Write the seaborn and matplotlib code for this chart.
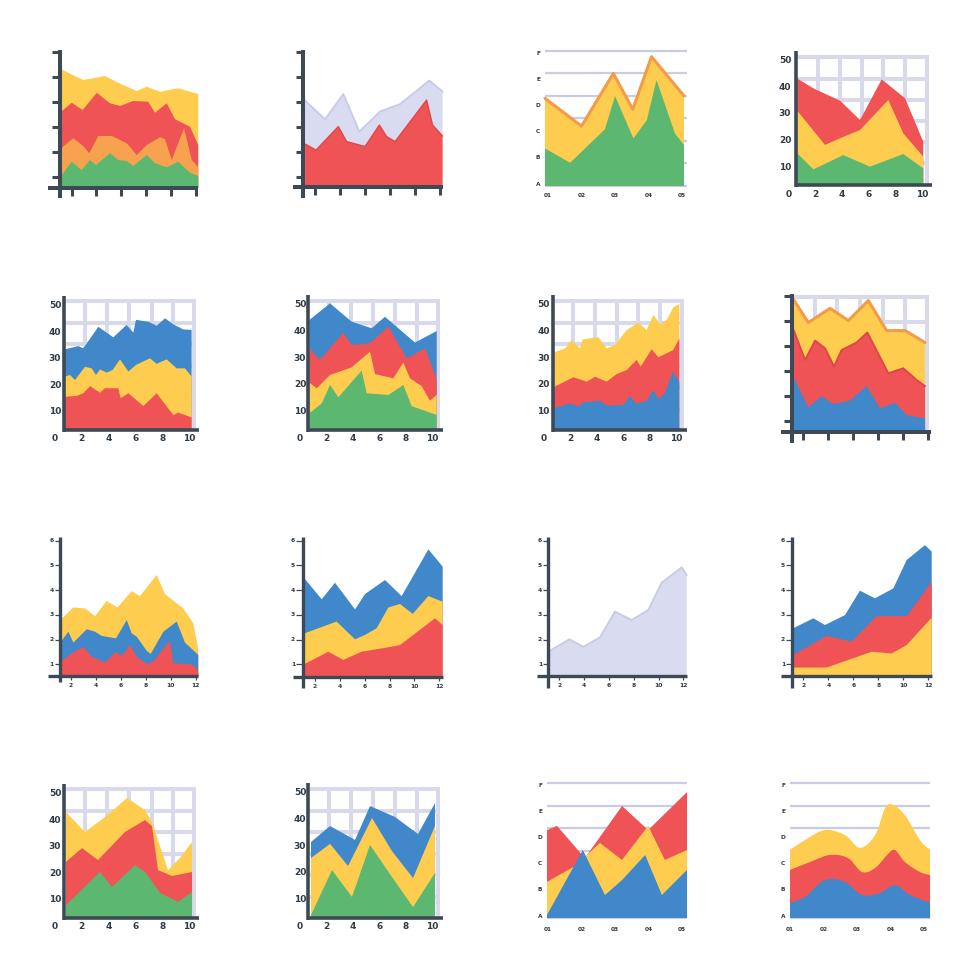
import numpy as np
import matplotlib
matplotlib.use("Agg")
import matplotlib.pyplot as plt
import seaborn as sns

sns.set_theme(style="white")
plt.rcParams['font.family'] = ['DejaVu Sans']

# ---------------- colours ----------------
YEL = "#FECD4F"; RED = "#EF5355"; ORA = "#F7A24E"; GRN = "#5CB871"
BLU = "#4088CA"; LAV = "#D9DBF0"; GRID = "#D8DAEC"; AXC = "#3D4A55"
OUT = "#F29C4A"; REDE = "#DE4747"; LAVE = "#C9CCE6"; TXT = "#2F3B45"

# ---------------- data ----------------
# P1 (unlabelled, tick units)
p1_x_yel = [0.04, 0.93, 1.8, 2.33, 3.07, 3.47, 4.0, 4.73, 5.53]
p1_y_yel = [4.75, 4.32, 4.48, 4.21, 3.88, 4.05, 3.85, 3.99, 3.76]
p1_x_red = [0.04, 0.47, 0.91, 1.47, 2.0, 2.4, 2.93, 3.53, 3.8, 4.27, 4.6, 5.2, 5.53]
p1_y_red = [3.05, 3.41, 3.12, 3.81, 3.39, 3.28, 3.48, 3.45, 3.01, 3.39, 2.75, 2.45, 1.72]
p1_x_ora = [0.04, 0.53, 0.93, 1.17, 1.53, 2.07, 2.67, 3.07, 3.47, 4.0, 4.2, 4.47, 4.96, 5.27, 5.53]
p1_y_ora = [1.59, 1.99, 1.68, 1.39, 2.08, 2.08, 1.79, 1.32, 1.72, 2.03, 1.95, 1.12, 2.39, 1.12, 0.83]
p1_x_grn = [0.04, 0.47, 0.87, 1.2, 1.44, 2.0, 2.33, 2.67, 2.93, 3.47, 3.8, 4.27, 4.73, 5.2, 5.53]
p1_y_grn = [0.48, 1.05, 0.72, 1.12, 0.92, 1.39, 1.12, 1.08, 0.88, 1.32, 0.99, 0.83, 1.05, 0.61, 0.48]

# P2
p2_x_lav = [0.07, 0.87, 1.6, 2.24, 3.07, 3.87, 5.04, 5.57]
p2_y_lav = [3.47, 2.72, 3.73, 2.23, 3.03, 3.33, 4.27, 3.83]
p2_x_red = [0.07, 0.51, 1.4, 1.73, 2.47, 3.04, 3.33, 3.67, 4.93, 5.17, 5.57]
p2_y_red = [1.73, 1.49, 2.43, 1.83, 1.63, 2.49, 2.03, 1.83, 3.49, 2.49, 2.05]

# P3 (letters A-F, 01-05)
letters = ["A", "B", "C", "D", "E", "F"]
periods = ["01", "02", "03", "04", "05"]
p3_x_yel = [0.91, 2.0, 2.95, 3.53, 4.09, 5.06]
p3_y_yel = [3.27, 2.21, 4.22, 2.85, 4.86, 3.36]
p3_x_grn = [0.91, 1.66, 2.70, 3.0, 3.55, 3.95, 4.24, 4.79, 5.06]
p3_y_grn = [1.36, 0.81, 2.09, 3.36, 1.74, 2.44, 3.97, 1.93, 1.49]

# P4 (0-50 / 0-10)
p4_x_red = [0.62, 1.99, 3.86, 5.35, 6.97, 8.71, 10.07]
p4_y_red = [43.4, 39.3, 35.0, 27.75, 43.0, 35.9, 19.6]
p4_x_yel = [0.62, 2.74, 3.86, 5.35, 7.46, 8.58, 10.07]
p4_y_yel = [31.5, 18.4, 20.9, 24.0, 35.25, 22.75, 14.0]
p4_x_grn = [0.62, 1.87, 4.1, 6.09, 8.58, 10.07]
p4_y_grn = [15.5, 9.25, 14.6, 10.25, 15.0, 9.6]

# P5
p5_x_blu = [0.74, 1.74, 2.11, 3.23, 4.34, 5.33, 5.83, 6.03, 6.95, 7.57, 8.19, 8.81, 9.55, 10.17]
p5_y_blu = [33.6, 34.8, 34.0, 42.1, 38.1, 42.8, 39.9, 44.7, 44.0, 42.5, 45.3, 43.0, 41.1, 40.9]
p5_x_yel = [0.74, 1.12, 1.49, 2.23, 2.73, 3.05, 3.35, 3.85, 4.29, 4.84, 5.46, 6.03, 7.07, 7.57, 8.31, 9.06, 9.68, 10.17]
p5_y_yel = [23.3, 23.9, 22.0, 27.0, 26.4, 23.9, 26.0, 24.8, 25.8, 29.8, 25.2, 27.7, 30.2, 28.1, 29.8, 26.4, 26.4, 23.3]
p5_x_red = [0.74, 1.61, 2.11, 2.61, 3.35, 3.72, 4.71, 4.89, 5.46, 6.58, 7.57, 8.81, 9.18, 10.17]
p5_y_red = [15.7, 16.0, 17.0, 19.7, 17.2, 18.9, 18.9, 15.1, 17.0, 12.2, 17.0, 8.8, 9.7, 7.9]

# P6
p6_x_blu = [0.71, 2.27, 3.9, 5.42, 6.42, 8.69, 10.33]
p6_y_blu = [44.4, 50.6, 43.75, 41.25, 45.6, 35.9, 40.25]
p6_x_red = [0.71, 1.51, 3.27, 3.9, 5.04, 5.42, 6.68, 8.06, 9.45, 10.08, 10.33]
p6_y_red = [33.75, 29.4, 39.6, 35.0, 35.4, 36.25, 41.9, 30.0, 33.75, 25.6, 21.9]
p6_x_yel = [0.71, 1.26, 2.27, 3.9, 5.29, 5.67, 7.05, 7.81, 8.31, 9.19, 9.82, 10.33]
p6_y_yel = [20.9, 18.75, 23.75, 26.6, 32.5, 24.1, 22.5, 28.4, 22.5, 19.6, 14.1, 16.25]
p6_x_grn = [0.71, 1.64, 2.27, 2.9, 4.66, 5.04, 6.68, 7.81, 8.44, 10.33]
p6_y_grn = [9.4, 13.1, 20.0, 15.4, 25.4, 16.9, 16.25, 20.0, 12.1, 8.75]

# P7
p7_x_yel = [0.75, 1.63, 2.13, 2.75, 2.95, 4.13, 4.75, 5.38, 6.25, 7.13, 7.75, 8.25, 8.75, 9.25, 9.75, 10.2]
p7_y_yel = [32.1, 33.75, 36.9, 33.75, 37.1, 37.9, 33.75, 35.0, 40.6, 43.4, 40.6, 46.25, 42.9, 44.4, 49.1, 50.4]
p7_x_red = [0.75, 2.25, 3.25, 3.88, 4.75, 5.5, 6.25, 7.0, 7.3, 8.13, 8.63, 9.75, 10.2]
p7_y_red = [19.1, 22.9, 21.25, 23.1, 21.25, 24.1, 25.6, 29.4, 26.9, 33.4, 30.4, 33.1, 37.5]
p7_x_blu = [0.75, 2.0, 2.63, 3.0, 4.25, 4.75, 6.0, 6.5, 7.0, 7.75, 8.25, 8.63, 9.13, 9.7, 10.2]
p7_y_blu = [11.25, 13.1, 11.9, 13.5, 14.1, 12.25, 12.5, 15.9, 12.9, 14.1, 18.1, 14.75, 16.9, 25.0, 21.25]

# P8
p8_x_yel = [0.04, 0.64, 1.51, 2.24, 3.04, 3.77, 4.51, 5.31]
p8_y_yel = [5.32, 4.39, 4.96, 4.47, 5.27, 4.07, 4.07, 3.59]
p8_x_red = [0.04, 0.51, 0.91, 1.31, 1.67, 1.97, 2.57, 3.0, 3.84, 4.44, 4.97, 5.31]
p8_y_red = [4.12, 2.89, 3.67, 3.36, 2.63, 3.29, 3.59, 3.99, 2.36, 2.56, 2.09, 1.85]
p8_x_blu = [0.04, 0.64, 1.17, 1.64, 2.31, 2.97, 3.51, 4.11, 4.57, 5.31]
p8_y_blu = [2.23, 1.0, 1.45, 1.13, 1.27, 1.85, 0.96, 1.19, 0.69, 0.56]

# P9 (1-6 / 2-12)
p9_x_yel = [1.2, 2.19, 3.12, 3.93, 4.86, 5.72, 6.87, 7.53, 8.87, 9.54, 10.21, 11.01, 11.81, 12.21]
p9_y_yel = [2.82, 3.3, 3.26, 2.95, 3.56, 3.3, 3.96, 3.76, 4.61, 3.84, 3.57, 3.26, 2.66, 1.61]
p9_x_blu = [1.2, 1.79, 2.19, 3.26, 3.93, 4.46, 5.61, 6.47, 6.87, 7.27, 8.07, 8.39, 9.41, 10.48, 11.14, 12.21]
p9_y_blu = [1.92, 2.32, 1.88, 2.42, 2.32, 2.15, 2.05, 2.79, 2.25, 2.12, 1.55, 1.42, 2.32, 2.73, 1.88, 1.38]
p9_x_red = [1.2, 2.05, 2.99, 3.66, 4.73, 5.61, 6.07, 6.73, 7.27, 8.07, 8.6, 9.94, 10.21, 11.55, 11.95, 12.21]
p9_y_red = [1.11, 1.44, 1.71, 1.31, 1.07, 1.51, 1.34, 1.78, 1.31, 1.01, 1.11, 1.96, 1.04, 1.01, 0.91, 0.7]

# P10
p10_x_blu = [1.14, 2.54, 3.61, 5.22, 6.02, 7.63, 8.97, 11.12, 12.27]
p10_y_blu = [4.48, 3.63, 4.3, 3.22, 3.84, 4.41, 3.76, 5.65, 4.95]
p10_x_yel = [1.14, 3.74, 5.22, 6.02, 6.96, 7.9, 8.84, 9.86, 11.12, 12.27]
p10_y_yel = [2.25, 2.73, 2.01, 2.19, 2.46, 3.3, 3.44, 3.04, 3.76, 3.53]
p10_x_red = [1.14, 3.07, 4.28, 5.75, 7.9, 8.84, 9.91, 11.65, 12.27]
p10_y_red = [1.01, 1.51, 1.18, 1.51, 1.69, 1.78, 2.19, 2.86, 2.59]

# P11
p11_x_lav = [1.25, 2.81, 3.94, 5.28, 6.49, 7.83, 9.18, 10.25, 11.87, 12.27]
p11_y_lav = [1.55, 2.01, 1.71, 2.09, 3.13, 2.79, 3.2, 4.3, 4.92, 4.61]

# P12
p12_x_blu = [1.2, 2.8, 3.73, 5.33, 6.53, 7.73, 9.2, 10.27, 11.73, 12.27]
p12_y_blu = [2.46, 2.86, 2.59, 2.99, 3.98, 3.67, 4.07, 5.22, 5.82, 5.56]
p12_x_red = [1.2, 3.87, 5.87, 7.87, 10.27, 12.27]
p12_y_red = [1.38, 2.15, 1.92, 2.95, 2.95, 4.34]
p12_x_yel = [1.2, 3.87, 7.47, 9.07, 10.27, 12.27]
p12_y_yel = [0.87, 0.87, 1.51, 1.44, 1.78, 2.89]

# P13
p13_x_yel = [0.82, 2.23, 3.72, 5.36, 6.7, 7.22, 8.41, 9.31, 10.2]
p13_y_yel = [43.1, 35.6, 41.2, 48.4, 43.9, 39.4, 21.2, 25.8, 31.8]
p13_x_red = [0.82, 2.01, 3.2, 5.21, 6.7, 7.22, 7.67, 8.71, 10.2]
p13_y_red = [24.3, 29.5, 25.0, 35.6, 40.1, 37.8, 21.2, 19.0, 20.5]
p13_x_grn = [0.82, 3.35, 4.24, 5.96, 6.7, 7.82, 9.16, 10.2]
p13_y_grn = [8.0, 20.5, 14.8, 23.1, 20.5, 12.6, 9.2, 12.9]

# P14
p14_x_blu = [0.83, 2.27, 4.16, 5.29, 7.18, 8.92, 10.2]
p14_y_blu = [31.6, 37.6, 32.4, 45.1, 41.0, 34.6, 46.2]
p14_x_yel = [0.83, 2.27, 3.63, 5.44, 6.95, 8.54, 10.2]
p14_y_yel = [25.6, 30.9, 22.6, 40.6, 28.2, 18.1, 37.6]
p14_x_grn = [0.83, 2.42, 3.93, 5.29, 6.95, 8.54, 10.2]
p14_y_grn = [4.2, 21.1, 11.0, 30.5, 18.5, 7.2, 20.0]

# P15
p15_x_red = [0.97, 1.27, 2.1, 3.21, 3.99, 5.15]
p15_y_red = [3.28, 3.44, 2.21, 4.2, 3.28, 4.73]
p15_x_yel = [0.97, 1.81, 2.55, 3.21, 3.99, 4.49, 5.15]
p15_y_yel = [1.3, 1.91, 2.79, 2.14, 3.44, 2.14, 2.52]
p15_x_blu = [0.97, 2.04, 2.7, 3.21, 3.9, 4.4, 5.15]
p15_y_blu = [0.04, 2.52, 0.8, 1.37, 2.33, 0.8, 1.76]

# P16 (smooth)
p16_x_yel = [1.0, 1.45, 2.04, 2.64, 3.09, 3.54, 3.84, 4.07, 4.43, 4.88, 5.18]
p16_y_yel = [2.52, 2.9, 3.28, 3.09, 2.6, 3.09, 4.12, 4.24, 3.85, 2.9, 2.52]
p16_x_red = [1.0, 1.6, 2.19, 2.73, 3.15, 3.54, 3.9, 4.13, 4.43, 4.88, 5.18]
p16_y_red = [1.76, 2.06, 2.33, 2.21, 1.68, 1.83, 2.33, 2.52, 2.06, 1.68, 1.56]
p16_x_blu = [1.0, 1.45, 2.04, 2.64, 3.15, 3.69, 4.13, 4.58, 5.18]
p16_y_blu = [0.5, 0.73, 1.37, 1.3, 0.8, 0.88, 1.18, 0.8, 0.5]

tens = [10, 20, 30, 40, 50]
evens10 = [2, 4, 6, 8, 10]
ones = [1, 2, 3, 4, 5, 6]
evens12 = [2, 4, 6, 8, 10, 12]

# ---------------- helpers ----------------
W = H = 980
fig = plt.figure(figsize=(9.8, 9.8), dpi=100)
fig.patch.set_facecolor("white")


def pan(cell, a, sx, b, sy):
    L, T, R, B = cell
    ax = fig.add_axes([L / W, 1 - B / H, (R - L) / W, (B - T) / H])
    ax.set_xlim((L - a) / sx, (R - a) / sx)
    ax.set_ylim((b - B) / sy, (b - T) / sy)
    ax.set_axis_off()
    fx = lambda p: (p - a) / sx
    fy = lambda p: (b - p) / sy
    return ax, fx, fy


def seg(ax, fx, fy, x0, y0, x1, y1, color=AXC, lw=2.6, z=6, cap="butt"):
    ax.plot([fx(x0), fx(x1)], [fy(y0), fy(y1)], color=color, lw=lw,
            solid_capstyle=cap, clip_on=False, zorder=z)


def area(ax, x, y, base, color, z=2):
    x = list(x); y = list(y)
    ax.fill(x + [x[-1], x[0]], y + [base, base], color=color, lw=0, zorder=z)


def edge(ax, x, y, color, lw, z=3):
    sns.lineplot(x=x, y=y, ax=ax, color=color, lw=lw, sort=False,
                 estimator=None, legend=False, zorder=z)


def smooth(x, y, n=16):
    P = np.column_stack([x, y]).astype(float)
    P = np.vstack([P[0], P, P[-1]])
    out = []
    t = np.linspace(0, 1, n, endpoint=False)[:, None]
    for i in range(1, len(P) - 2):
        p0, p1, p2, p3 = P[i - 1], P[i], P[i + 1], P[i + 2]
        out.append(0.5 * (2 * p1 + (-p0 + p2) * t + (2 * p0 - 5 * p1 + 4 * p2 - p3) * t ** 2
                          + (-p0 + 3 * p1 - 3 * p2 + p3) * t ** 3))
    out.append(P[-2][None])
    r = np.vstack(out)
    return list(r[:, 0]), list(r[:, 1])


def txt(ax, x, y, s, size=6.5):
    ax.text(x, y, s, ha="center", va="center", fontsize=size, fontweight="bold",
            color=TXT, clip_on=False, zorder=8)


def grid(ax, fx, fy, xs, ys, x0, x1, y0, y1, lw=2.9):
    for p in xs:
        seg(ax, fx, fy, p, y0, p, y1, color=GRID, lw=lw, z=1)
    for p in ys:
        seg(ax, fx, fy, x0, p, x1, p, color=GRID, lw=lw, z=1)


# ---------------- P1 ----------------
ax, fx, fy = pan((20, 20, 240, 240), 60, 25, 188, 25)
area(ax, p1_x_yel, p1_y_yel, 0, YEL)
area(ax, p1_x_red, p1_y_red, 0, RED)
area(ax, p1_x_ora, p1_y_ora, 0, ORA)
area(ax, p1_x_grn, p1_y_grn, 0, GRN)
seg(ax, fx, fy, 60, 50, 60, 198, lw=2.9)
seg(ax, fx, fy, 48, 188, 198, 188, lw=2.9)
for p in [52, 77, 102, 127, 152, 177]:
    seg(ax, fx, fy, 52, p, 60, p, lw=2.2)
for p in [72, 96, 121, 146, 171, 196]:
    seg(ax, fx, fy, p, 188, p, 196, lw=2.2)

# ---------------- P2 ----------------
ax, fx, fy = pan((260, 20, 480, 240), 303.33, 25, 187.33, 25)
area(ax, p2_x_lav, p2_y_lav, 0, LAV)
edge(ax, p2_x_lav, p2_y_lav, LAVE, 1.4)
area(ax, p2_x_red, p2_y_red, 0, RED, z=4)
edge(ax, p2_x_red, p2_y_red, REDE, 1.0, z=5)
seg(ax, fx, fy, 303, 50, 303, 198, lw=2.9)
seg(ax, fx, fy, 293, 187, 443, 187, lw=2.9)
for p in [52, 77, 102, 127, 152, 177]:
    seg(ax, fx, fy, 296, p, 303, p, lw=2.2)
for p in [315, 340, 365, 390, 415, 440]:
    seg(ax, fx, fy, p, 187, p, 195, lw=2.2)

# ---------------- P3 ----------------
ax, fx, fy = pan((500, 20, 720, 240), 514.5, 33.5, 184, 26.2)
for p in [51, 73, 96, 118, 141, 163, 186]:
    seg(ax, fx, fy, 545, p, 687, p, color="#C9CCE5", lw=1.6, z=1)
area(ax, p3_x_yel, p3_y_yel, fy(186), YEL)
edge(ax, p3_x_yel, p3_y_yel, OUT, 2.2)
area(ax, p3_x_grn, p3_y_grn, fy(186), GRN, z=4)
for i, s in enumerate(letters):
    txt(ax, fx(538), i, s, 4.2)
for i, s in enumerate(periods):
    txt(ax, i + 1, fy(195), s, 4.2)

# ---------------- P4 ----------------
ax, fx, fy = pan((740, 20, 960, 240), 788.33, 13.4, 194, 2.667)
grid(ax, fx, fy, [818.3, 840, 861.7, 883.3, 905, 926.7],
     [56.7, 79.3, 100, 120.7, 141.7, 163.3], 796, 928, 55.3, 185)
area(ax, p4_x_red, p4_y_red, fy(185), RED)
area(ax, p4_x_yel, p4_y_yel, fy(185), YEL)
area(ax, p4_x_grn, p4_y_grn, fy(185), GRN)
seg(ax, fx, fy, 796, 51, 796, 187, lw=2.6)
seg(ax, fx, fy, 796, 185, 932, 185, lw=2.6)
for v in tens:
    txt(ax, fx(785), v, str(v))
txt(ax, 0, 0, "0")
for v in evens10:
    txt(ax, v, 0, str(v))

# ---------------- P5 ----------------
ax, fx, fy = pan((20, 265, 240, 485), 55, 13.433, 438.33, 2.65)
grid(ax, fx, fy, [85, 107.3, 129.3, 151.7, 173.3, 194],
     [300.7, 322.7, 344, 366, 387.3, 409.3], 64, 195.4, 299.3, 430)
area(ax, p5_x_blu, p5_y_blu, fy(430), BLU)
area(ax, p5_x_yel, p5_y_yel, fy(430), YEL)
area(ax, p5_x_red, p5_y_red, fy(430), RED)
seg(ax, fx, fy, 64, 296, 64, 432, lw=2.6)
seg(ax, fx, fy, 64, 430, 199, 430, lw=2.6)
for v in tens:
    txt(ax, 0, v, str(v))
txt(ax, 0, 0, "0")
for v in evens10:
    txt(ax, v, 0, str(v))

# ---------------- P6 ----------------
ax, fx, fy = pan((260, 265, 480, 485), 300, 13.233, 438.33, 2.667)
grid(ax, fx, fy, [329.3, 350.7, 372.7, 395, 416.7, 438.3],
     [300.7, 322.7, 344, 366, 387.3, 409.3], 308, 439.7, 299.3, 430)
area(ax, p6_x_blu, p6_y_blu, fy(430), BLU)
area(ax, p6_x_red, p6_y_red, fy(430), RED)
area(ax, p6_x_yel, p6_y_yel, fy(430), YEL)
area(ax, p6_x_grn, p6_y_grn, fy(430), GRN)
seg(ax, fx, fy, 308, 295, 308, 432, lw=2.6)
seg(ax, fx, fy, 308, 430, 443, 430, lw=2.6)
for v in tens:
    txt(ax, 0, v, str(v))
txt(ax, 0, 0, "0")
for v in evens10:
    txt(ax, v, 0, str(v))

# ---------------- P7 ----------------
ax, fx, fy = pan((500, 265, 720, 485), 543.33, 13.333, 438.33, 2.667)
grid(ax, fx, fy, [573.3, 595, 616.7, 638.3, 660, 681.7],
     [300.7, 322.7, 344, 366, 387.3, 409.3], 553, 683.1, 299.3, 430)
area(ax, p7_x_yel, p7_y_yel, fy(430), YEL)
area(ax, p7_x_red, p7_y_red, fy(430), RED)
area(ax, p7_x_blu, p7_y_blu, fy(430), BLU)
seg(ax, fx, fy, 553, 295, 553, 432, lw=2.6)
seg(ax, fx, fy, 553, 430, 687, 430, lw=2.6)
for v in tens:
    txt(ax, 0, v, str(v))
txt(ax, 0, 0, "0")
for v in evens10:
    txt(ax, v, 0, str(v))

# ---------------- P8 ----------------
ax, fx, fy = pan((740, 265, 960, 485), 792.33, 25, 432.33, 25)
grid(ax, fx, fy, [815, 837.3, 860, 882.7, 905, 926.7],
     [296.7, 321.7, 346.7, 371.7, 396.7, 421.7], 792, 928, 295.3, 432)
area(ax, p8_x_yel, p8_y_yel, 0, YEL)
edge(ax, p8_x_yel, p8_y_yel, OUT, 2.2)
area(ax, p8_x_red, p8_y_red, 0, RED, z=4)
edge(ax, p8_x_red, p8_y_red, REDE, 1.4, z=5)
area(ax, p8_x_blu, p8_y_blu, 0, BLU, z=6)
seg(ax, fx, fy, 792, 294, 792, 443, lw=2.9, z=7)
seg(ax, fx, fy, 781, 432, 931, 432, lw=2.9, z=7)
for p in [296, 321, 346, 371, 396, 421]:
    seg(ax, fx, fy, 784, p, 792, p, lw=2.2, z=7)
for p in [803, 828, 853, 878, 903, 928]:
    seg(ax, fx, fy, p, 432, p, 440, lw=2.2, z=7)


# ---------------- P9-P12 ----------------
def small_axes(ax, fx, fy, axx, y0, y1, axy, x0, x1, labx):
    seg(ax, fx, fy, axx, y0, axx, y1, lw=2.4, z=7)
    seg(ax, fx, fy, x0, axy, x1, axy, lw=2.4, z=7)
    for v in ones:
        txt(ax, fx(labx), v, str(v), 4.3)
        ax.plot([fx(labx + 3), fx(axx)], [v, v], color=AXC, lw=0.9, zorder=7,
                clip_on=False, solid_capstyle="butt")
    for v in evens12:
        txt(ax, v, fy(axy + 9), str(v), 4.3)
        ax.plot([v, v], [fy(axy), fy(axy + 4)], color=AXC, lw=0.9, zorder=7,
                clip_on=False, solid_capstyle="butt")


ax, fx, fy = pan((20, 510, 240, 730), 46.07, 12.467, 689.07, 24.733)
b = fy(676)
area(ax, p9_x_yel, p9_y_yel, b, YEL)
area(ax, p9_x_blu, p9_y_blu, b, BLU)
area(ax, p9_x_red, p9_y_red, b, RED)
small_axes(ax, fx, fy, 60, 537, 682, 676, 48, 198, 51.5)

ax, fx, fy = pan((260, 510, 480, 730), 290.13, 12.433, 689.07, 24.733)
b = fy(677)
area(ax, p10_x_blu, p10_y_blu, b, BLU)
area(ax, p10_x_yel, p10_y_yel, b, YEL)
area(ax, p10_x_red, p10_y_red, b, RED)
small_axes(ax, fx, fy, 303, 537, 688, 677, 293, 443, 293)

ax, fx, fy = pan((500, 510, 720, 730), 534.53, 12.4, 689.07, 24.733)
b = fy(676)
area(ax, p11_x_lav, p11_y_lav, b, LAV)
edge(ax, p11_x_lav, p11_y_lav, LAVE, 1.4)
small_axes(ax, fx, fy, 548, 537, 688, 676, 537, 687, 540)

ax, fx, fy = pan((740, 510, 960, 730), 778.33, 12.5, 689.07, 24.733)
b = fy(676)
area(ax, p12_x_blu, p12_y_blu, b, BLU)
area(ax, p12_x_red, p12_y_red, b, RED)
area(ax, p12_x_yel, p12_y_yel, b, YEL)
small_axes(ax, fx, fy, 792, 537, 688, 676, 781, 932, 783)

# ---------------- P13 ----------------
ax, fx, fy = pan((20, 755, 240, 975), 55, 13.433, 926.3, 2.65)
grid(ax, fx, fy, [85, 107.3, 129.3, 151.7, 173.3, 194],
     [788.7, 810.7, 832, 854, 875.3, 897.3], 64, 195.4, 787.3, 918)
area(ax, p13_x_yel, p13_y_yel, fy(918), YEL)
area(ax, p13_x_red, p13_y_red, fy(918), RED)
area(ax, p13_x_grn, p13_y_grn, fy(918), GRN)
seg(ax, fx, fy, 64, 784, 64, 920, lw=2.6)
seg(ax, fx, fy, 64, 918, 199, 918, lw=2.6)
for v in tens:
    txt(ax, 0, v, str(v))
txt(ax, 0, 0, "0")
for v in evens10:
    txt(ax, v, 0, str(v))

# ---------------- P14 ----------------
ax, fx, fy = pan((260, 755, 480, 975), 300, 13.233, 926.3, 2.667)
grid(ax, fx, fy, [329.3, 350.7, 372.7, 395, 416.7, 438.3],
     [788.7, 810.7, 832, 854, 875.3, 897.3], 308, 439.7, 787.3, 918)
area(ax, p14_x_blu, p14_y_blu, fy(918), BLU)
area(ax, p14_x_yel, p14_y_yel, fy(918), YEL)
area(ax, p14_x_grn, p14_y_grn, fy(918), GRN)
seg(ax, fx, fy, 308, 783, 308, 920, lw=2.6)
seg(ax, fx, fy, 308, 918, 443, 918, lw=2.6)
for v in tens:
    txt(ax, 0, v, str(v))
txt(ax, 0, 0, "0")
for v in evens10:
    txt(ax, v, 0, str(v))

# ---------------- P15 ----------------
ax, fx, fy = pan((500, 755, 720, 975), 514.5, 33.5, 916, 26.2)
for p in [783, 806, 828, 851, 873, 896, 918]:
    seg(ax, fx, fy, 547, p, 687, p, color="#C9CCE5", lw=1.6, z=1)
area(ax, p15_x_red, p15_y_red, fy(918), RED)
area(ax, p15_x_yel, p15_y_yel, fy(918), YEL)
area(ax, p15_x_blu, p15_y_blu, fy(918), BLU)
for i, s in enumerate(letters):
    txt(ax, fx(540), i, s, 4.2)
for i, s in enumerate(periods):
    txt(ax, i + 1, fy(929), s, 4.2)

# ---------------- P16 ----------------
ax, fx, fy = pan((740, 755, 960, 975), 756.5, 33.5, 916, 26.2)
for p in [783, 806, 828, 851, 873, 896, 918]:
    seg(ax, fx, fy, 790, p, 930, p, color="#C9CCE5", lw=1.6, z=1)
for xs, ys, c in [(p16_x_yel, p16_y_yel, YEL), (p16_x_red, p16_y_red, RED),
                  (p16_x_blu, p16_y_blu, BLU)]:
    sx_, sy_ = smooth(xs, ys)
    area(ax, sx_, sy_, fy(918), c)
for i, s in enumerate(letters):
    txt(ax, fx(783), i, s, 4.2)
for i, s in enumerate(periods):
    txt(ax, i + 1, fy(929), s, 4.2)

fig.savefig("out.png", dpi=100, facecolor="white")
